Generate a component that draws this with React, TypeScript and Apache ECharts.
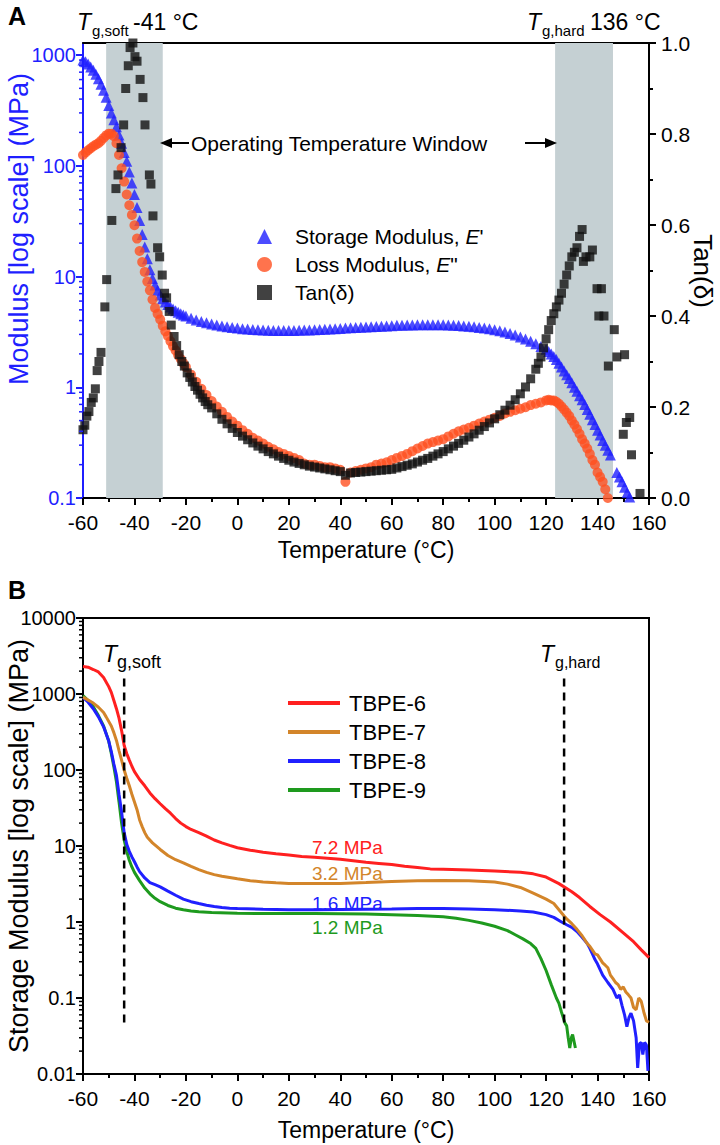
import React, { useEffect, useRef } from 'react';
import * as echarts from 'echarts';

const FONT = '"Liberation Sans", Arial, sans-serif';

// ---------- Panel A data ----------
const storageModulus: [number, number][] = [
  [-60, 900], [-59, 870], [-58, 830], [-57, 780], [-56, 730], [-55, 670], [-54, 610], [-53, 545], [-52, 480], [-51, 415],
  [-50, 350], [-49, 300], [-48, 260], [-47, 225], [-46, 190], [-45, 160], [-44, 132], [-43, 110], [-42, 88], [-41, 70],
  [-40, 55], [-39, 42], [-38, 32], [-37, 24], [-36, 18.5], [-35, 14.5], [-34, 11.5], [-33, 9.6], [-32, 8.4], [-31, 7.5],
  [-30, 6.8], [-29, 6.3], [-28, 5.9], [-27, 5.6], [-26, 5.3], [-25, 5.1], [-24, 4.9], [-23, 4.75], [-22, 4.6], [-21, 4.5],
  [-20, 4.4], [-18, 4.2], [-16, 4.05], [-14, 3.92], [-12, 3.82], [-10, 3.73], [-8, 3.65], [-6, 3.58], [-4, 3.52], [-2, 3.47],
  [0, 3.42], [2, 3.38], [4, 3.35], [6, 3.32], [8, 3.3], [10, 3.28], [12, 3.27], [14, 3.26], [16, 3.25], [18, 3.25],
  [20, 3.25], [22, 3.26], [24, 3.27], [26, 3.28], [28, 3.29], [30, 3.3], [32, 3.32], [34, 3.34], [36, 3.36], [38, 3.38],
  [40, 3.4], [42, 3.42], [44, 3.44], [46, 3.46], [48, 3.48], [50, 3.5], [52, 3.52], [54, 3.54], [56, 3.56], [58, 3.58],
  [60, 3.6], [62, 3.62], [64, 3.63], [66, 3.64], [68, 3.65], [70, 3.66], [72, 3.67], [74, 3.67], [76, 3.67], [78, 3.67],
  [80, 3.66], [82, 3.65], [84, 3.63], [86, 3.61], [88, 3.58], [90, 3.55], [92, 3.51], [94, 3.47], [96, 3.42], [98, 3.37],
  [100, 3.3], [102, 3.23], [104, 3.15], [106, 3.06], [108, 2.96], [110, 2.85], [112, 2.73], [114, 2.6], [116, 2.47], [118, 2.33],
  [120, 2.2], [121, 2.1], [122, 2.0], [123, 1.9], [124, 1.78], [125, 1.65], [126, 1.52], [127, 1.4], [128, 1.3], [129, 1.2],
  [130, 1.1], [131, 1.0], [132, 0.92], [133, 0.84], [134, 0.77], [135, 0.7], [136, 0.63], [137, 0.57], [138, 0.51], [139, 0.46],
  [140, 0.41], [141, 0.37], [142, 0.33], [143, 0.3], [144, 0.27], [145, 0.245],
  [147.5, 0.17], [148.5, 0.155], [149.5, 0.14], [150.5, 0.125], [151.5, 0.112], [152.5, 0.102],
];

const lossModulus: [number, number][] = [
  [-60, 125], [-59, 132], [-58, 138], [-57, 144], [-56, 150], [-55, 155], [-54, 160], [-53, 168], [-52, 178], [-51, 188],
  [-50, 195], [-49, 195], [-48, 185], [-47, 160], [-46, 125], [-45, 95], [-44, 72], [-43, 55], [-42, 44], [-41, 36],
  [-40, 29], [-39, 22], [-38, 17], [-37, 13.5], [-36, 11], [-35, 9], [-34, 7.5], [-33, 6.2], [-32, 5.2], [-31, 4.6],
  [-30, 4.1], [-29, 3.6], [-28, 3.2], [-27, 2.9], [-26, 2.6], [-25, 2.35], [-24, 2.15], [-23, 1.95], [-22, 1.8], [-21, 1.65],
  [-20, 1.52], [-18, 1.3], [-16, 1.12], [-14, 0.97], [-12, 0.85], [-10, 0.75], [-8, 0.67], [-6, 0.6], [-4, 0.54], [-2, 0.49],
  [0, 0.45], [2, 0.41], [4, 0.38], [6, 0.35], [8, 0.33], [10, 0.31], [12, 0.29], [14, 0.275], [16, 0.26], [18, 0.25],
  [20, 0.24], [22, 0.23], [24, 0.22], [26, 0.205], [28, 0.2], [30, 0.2], [32, 0.195], [34, 0.19], [36, 0.19], [38, 0.185],
  [40, 0.18], [42, 0.14], [44, 0.17], [46, 0.175], [48, 0.18], [50, 0.185], [52, 0.19], [54, 0.2], [56, 0.205], [58, 0.21],
  [60, 0.22], [62, 0.23], [64, 0.24], [66, 0.25], [68, 0.265], [70, 0.28], [72, 0.295], [74, 0.31], [76, 0.32], [78, 0.33],
  [80, 0.34], [82, 0.36], [84, 0.38], [86, 0.4], [88, 0.415], [90, 0.43], [92, 0.45], [94, 0.47], [96, 0.49], [98, 0.51],
  [100, 0.53], [102, 0.55], [104, 0.58], [106, 0.6], [108, 0.62], [110, 0.64], [112, 0.66], [114, 0.69], [116, 0.71], [118, 0.73],
  [120, 0.76], [121, 0.77], [122, 0.76], [123, 0.76], [124, 0.74], [125, 0.71], [126, 0.67], [127, 0.63], [128, 0.59], [129, 0.55],
  [130, 0.5], [131, 0.46], [132, 0.42], [133, 0.38], [134, 0.34], [135, 0.31], [136, 0.28], [137, 0.25], [138, 0.22], [139, 0.2],
  [140, 0.17], [141, 0.155], [142, 0.14], [143, 0.12], [144, 0.1],
];

const tanDelta: [number, number][] = [
  [-60, 0.15], [-59.3, 0.16], [-58.5, 0.18], [-57.7, 0.19], [-56.8, 0.21], [-56, 0.22], [-55.2, 0.24], [-54.5, 0.28], [-53.8, 0.3], [-53, 0.32],
  [-51.5, 0.42], [-50.8, 0.48], [-48.8, 0.61], [-47.2, 0.68], [-46.4, 0.71], [-45.2, 0.77], [-44.2, 0.82], [-43.4, 0.9], [-42.4, 0.95], [-41.7, 0.99],
  [-40.6, 1.0], [-39.8, 0.97], [-39, 0.96], [-37.8, 0.92], [-36.7, 0.88], [-35.9, 0.82], [-34.2, 0.71], [-33.6, 0.69], [-32.8, 0.62], [-31, 0.55],
  [-30.2, 0.53], [-29.2, 0.49], [-28.3, 0.45], [-27.5, 0.44], [-26.5, 0.41], [-25.7, 0.38], [-24.6, 0.355], [-23.6, 0.335], [-22.6, 0.315], [-21.6, 0.3],
  [-20.6, 0.29], [-19.5, 0.275], [-18.5, 0.265], [-17.5, 0.255], [-16.5, 0.245], [-15.5, 0.237], [-14.5, 0.228], [-13.5, 0.22], [-12.5, 0.212], [-11.5, 0.205],
  [-10, 0.198], [-8, 0.185], [-6, 0.173], [-4, 0.163], [-2, 0.153], [0, 0.144], [2, 0.136], [4, 0.128], [6, 0.121], [8, 0.114],
  [10, 0.108], [12, 0.102], [14, 0.097], [16, 0.092], [18, 0.087], [20, 0.083], [22, 0.079], [24, 0.076], [26, 0.073], [28, 0.07],
  [30, 0.068], [32, 0.066], [34, 0.064], [36, 0.062], [38, 0.06], [40, 0.058], [42, 0.05], [44, 0.055], [46, 0.056], [48, 0.057],
  [50, 0.058], [52, 0.059], [54, 0.06], [56, 0.061], [58, 0.062], [60, 0.063], [62, 0.066], [64, 0.069], [66, 0.072], [68, 0.075],
  [70, 0.079], [72, 0.083], [74, 0.087], [76, 0.092], [78, 0.097], [80, 0.102], [82, 0.108], [84, 0.114], [86, 0.12], [88, 0.127],
  [90, 0.134], [92, 0.141], [94, 0.149], [96, 0.157], [98, 0.165], [100, 0.174], [102, 0.183], [104, 0.193], [106, 0.204], [108, 0.216],
  [110, 0.229], [112, 0.244], [114, 0.262], [116, 0.283], [117, 0.296], [118, 0.31], [119, 0.33], [120, 0.35], [121, 0.37], [122, 0.39],
  [123, 0.405], [124, 0.42], [125, 0.435], [126, 0.45], [127, 0.47], [128, 0.49], [129, 0.51], [130, 0.53], [131, 0.54], [132, 0.55],
  [133, 0.575], [134, 0.59], [134.5, 0.52], [135.5, 0.53], [137, 0.53], [138, 0.545], [139.8, 0.46], [141.5, 0.46], [140.5, 0.4], [142.5, 0.4],
  [146.5, 0.37], [144.2, 0.29], [147.5, 0.31], [150.5, 0.315], [150, 0.14], [151.2, 0.166], [152.5, 0.177], [153.2, 0.095], [156.5, 0.01],
];

const windowBands: [number, number][] = [[-51, -29], [123.5, 146]];

// ---------- Panel B data ----------
const tbpe6: [number, number][] = [
  [-60, 2300], [-58, 2250], [-56, 2100], [-54, 1950], [-52, 1650], [-50, 1250], [-49, 1050], [-48, 820], [-47, 640], [-46, 480],
  [-45, 330], [-44, 210], [-43, 165], [-42, 135], [-41, 112], [-40, 95], [-38, 75], [-36, 62], [-34, 50], [-32, 42],
  [-30, 36], [-28, 31], [-26, 27], [-24, 23], [-22, 20], [-20, 18], [-18, 16.5], [-15, 15], [-12, 13.5], [-9, 12],
  [-6, 11], [-3, 10.2], [0, 9.5], [5, 8.8], [10, 8.3], [15, 7.9], [20, 7.6], [25, 7.3], [30, 7.1], [35, 6.9],
  [40, 6.7], [45, 6.4], [50, 6.1], [55, 5.9], [60, 5.7], [65, 5.4], [70, 5.2], [75, 5.0], [80, 4.95], [90, 4.85],
  [100, 4.7], [110, 4.5], [115, 4.3], [120, 3.9], [125, 3.2], [130, 2.5], [133, 2.1], [137, 1.6], [141, 1.25], [145, 1.0],
  [150, 0.72], [154, 0.55], [157, 0.43], [160, 0.34],
];

const tbpe7: [number, number][] = [
  [-60, 910], [-58, 830], [-56, 760], [-54, 670], [-52, 570], [-51, 500], [-49, 380], [-48, 310], [-47, 245], [-46, 180],
  [-45, 135], [-44, 100], [-43, 78], [-42, 62], [-41, 48], [-40, 38], [-39, 30], [-38, 22], [-37, 18], [-36, 15],
  [-35, 13], [-33, 11], [-30, 9], [-27, 7.5], [-24, 6.6], [-21, 6.0], [-18, 5.4], [-15, 4.9], [-12, 4.5], [-9, 4.2],
  [-6, 4.0], [-3, 3.85], [0, 3.7], [5, 3.5], [10, 3.35], [15, 3.28], [20, 3.22], [25, 3.2], [30, 3.2], [40, 3.22],
  [50, 3.3], [60, 3.4], [70, 3.5], [80, 3.52], [90, 3.5], [100, 3.35], [105, 3.15], [110, 2.85], [115, 2.4], [120, 2.0],
  [123, 1.75], [125, 1.45], [127, 1.2], [128, 1.1], [130, 0.95], [132, 0.8], [134, 0.66], [136, 0.52], [137, 0.48], [139, 0.38],
  [140, 0.37], [142, 0.29], [143, 0.27], [144, 0.25], [145, 0.2], [146, 0.18], [147, 0.16], [148, 0.15], [149, 0.13], [150, 0.14],
  [151, 0.12], [152, 0.11], [153, 0.1], [154, 0.075], [155, 0.07], [156, 0.1], [157, 0.09], [158, 0.065], [159, 0.05], [160, 0.048],
];

const tbpe8: [number, number][] = [
  [-60, 900], [-58, 780], [-56, 640], [-54, 500], [-52, 370], [-50, 240], [-49, 175], [-48, 120], [-47, 85], [-46, 48],
  [-45, 28], [-44, 15], [-43, 10.5], [-42, 8.5], [-41, 7.2], [-40, 6.2], [-39, 5.3], [-38, 4.6], [-36, 3.8], [-34, 3.3],
  [-32, 3.1], [-30, 2.9], [-27, 2.55], [-24, 2.25], [-21, 2.0], [-18, 1.85], [-15, 1.75], [-12, 1.66], [-9, 1.6], [-6, 1.55],
  [-3, 1.52], [0, 1.5], [10, 1.47], [20, 1.45], [30, 1.45], [40, 1.46], [50, 1.47], [60, 1.48], [70, 1.5], [80, 1.5],
  [90, 1.48], [100, 1.45], [110, 1.4], [115, 1.35], [120, 1.25], [123, 1.15], [126, 1.0], [128, 0.92], [130, 0.85], [132, 0.75],
  [134, 0.63], [136, 0.52], [137, 0.45], [138, 0.38], [139, 0.32], [140, 0.28], [142, 0.2], [144, 0.16], [146, 0.13], [147.5, 0.1],
  [148.5, 0.11], [149.5, 0.08], [150.5, 0.06], [151.4, 0.042], [152.2, 0.055], [153, 0.063], [154, 0.05], [155, 0.03], [155.6, 0.012], [156.3, 0.025],
  [157, 0.026], [157.6, 0.018], [158.3, 0.026], [159, 0.024], [159.6, 0.011],
];

const tbpe9: [number, number][] = [
  [-60, 950], [-58, 820], [-56, 680], [-54, 520], [-52, 380], [-50, 240], [-49, 165], [-48, 110], [-47, 70], [-46, 38],
  [-45, 20], [-44, 12], [-43, 8.5], [-42, 6.5], [-41, 5.3], [-40, 4.5], [-38, 3.5], [-36, 2.8], [-34, 2.35], [-32, 2.05],
  [-30, 1.85], [-27, 1.65], [-24, 1.52], [-21, 1.45], [-18, 1.4], [-15, 1.36], [-10, 1.33], [0, 1.3], [10, 1.29], [20, 1.29],
  [30, 1.29], [40, 1.28], [50, 1.27], [60, 1.25], [70, 1.22], [80, 1.17], [85, 1.12], [90, 1.05], [95, 0.97], [100, 0.88],
  [105, 0.77], [108, 0.68], [111, 0.6], [114, 0.52], [116, 0.45], [118, 0.33], [120, 0.23], [122, 0.15], [124, 0.1], [125, 0.085],
  [126, 0.065], [126.6, 0.056], [127.3, 0.047], [128, 0.043], [128.6, 0.03], [129.2, 0.022], [129.8, 0.03], [130.3, 0.033], [131.4, 0.022],
];

// transition temperatures in B: [T, top value, bottom value]
const tgLinesB: [number, number, number][] = [[-44, 1600, 0.042], [127, 1600, 0.042]];

const xTicks = { min: -60, max: 160, interval: 20 };
const minorMantissas = [2, 3, 4, 5, 6, 7, 8, 9];
const decadesA = [0.1, 1, 10, 100];
const decadesB = [0.01, 0.1, 1, 10, 100, 1000];

const BLUE_A = '#1f1fff';
const ORANGE_A = '#ff5020';
const SHADE = '#c5d0d3';
const C6 = '#ff2020';
const C7 = '#d3852a';
const C8 = '#2020ff';
const C9 = '#1e9a1e';

const logLabel = (v: number) => {
  const r = Math.round(Math.log10(v));
  return r >= 0 ? String(Math.pow(10, r)) : Math.pow(10, r).toFixed(-r);
};

const minorTickSeries = (xi: number, yi: number, decades: number[], color: string) => ({
  type: 'custom',
  xAxisIndex: xi,
  yAxisIndex: yi,
  silent: true,
  clip: false,
  z: 6,
  data: decades.flatMap((d) => minorMantissas.map((m) => [-60, +(d * m).toPrecision(3)])),
  renderItem: (_p: any, api: any) => {
    const p = api.coord([api.value(0), api.value(1)]);
    return { type: 'line', shape: { x1: p[0] - 4, y1: p[1], x2: p[0], y2: p[1] }, style: { stroke: color, lineWidth: 1.5 } };
  },
});

const baseX = (gridIndex: number) => ({
  type: 'value',
  gridIndex,
  ...xTicks,
  axisLine: { onZero: false, lineStyle: { color: '#000', width: 2 } },
  axisTick: { length: 7, lineStyle: { width: 2, color: '#000' } },
  minorTick: { show: true, splitNumber: 2, length: 4, lineStyle: { width: 2, color: '#000' } },
  splitLine: { show: false },
  axisLabel: { fontSize: 21, color: '#000', margin: 14, fontFamily: FONT },
  name: 'Temperature (°C)',
  nameLocation: 'middle',
  nameTextStyle: { fontSize: 23, color: '#000', fontFamily: FONT },
});

const txt = (x: number, y: number, text: string, size: number, color = '#000', style = 'normal', weight = 'normal') => ({
  type: 'text',
  x,
  y,
  z: 100,
  silent: true,
  style: { text, fill: color, fontSize: size, fontFamily: FONT, fontStyle: style, fontWeight: weight, verticalAlign: 'middle' },
});

const vtxt = (x: number, y: number, text: string, size: number, color: string, rotation: number) => ({
  type: 'text',
  x,
  y,
  rotation,
  z: 100,
  silent: true,
  style: { text, fill: color, fontSize: size, fontFamily: FONT, align: 'center', verticalAlign: 'middle' },
});

const gridBase = { left: 83, width: 566, outerBoundsMode: 'none', containLabel: false };

const option: any = {
  animation: false,
  textStyle: { fontFamily: FONT },
  grid: [
    { ...gridBase, top: 55, height: 443 },
    { ...gridBase, top: 43, height: 455 },
    { ...gridBase, top: 618, height: 456, show: true, borderColor: '#000', borderWidth: 2 },
  ],
  xAxis: [
    { ...baseX(0), nameGap: 40 },
    {
      type: 'value', gridIndex: 1, position: 'top', ...xTicks,
      axisLine: { onZero: false, lineStyle: { color: '#000', width: 2 } },
      axisTick: { show: false }, axisLabel: { show: false }, splitLine: { show: false },
    },
    { ...baseX(2), nameGap: 44 },
  ],
  yAxis: [
    {
      type: 'log', gridIndex: 0, logBase: 10, min: 0.1, max: 1000, position: 'left',
      axisLine: { onZero: false, lineStyle: { color: BLUE_A, width: 2 } },
      axisTick: { length: 7, lineStyle: { width: 2, color: BLUE_A } },
      splitLine: { show: false },
      axisLabel: { fontSize: 20, color: BLUE_A, margin: 7, fontFamily: FONT, formatter: logLabel },
    },
    {
      type: 'value', gridIndex: 1, min: 0, max: 1, interval: 0.2, position: 'right',
      axisLine: { onZero: false, lineStyle: { color: '#000', width: 2 } },
      axisTick: { length: 7, lineStyle: { width: 2, color: '#000' } },
      minorTick: { show: true, splitNumber: 2, length: 4, lineStyle: { width: 2, color: '#000' } },
      splitLine: { show: false },
      axisLabel: { fontSize: 21, color: '#000', margin: 12, fontFamily: FONT, formatter: (v: number) => v.toFixed(1) },
    },
    {
      type: 'value', gridIndex: 1, min: 0, max: 1, position: 'left',
      axisLine: { onZero: false, lineStyle: { color: BLUE_A, width: 2 } },
      axisTick: { show: false }, axisLabel: { show: false }, splitLine: { show: false },
    },
    {
      type: 'log', gridIndex: 2, logBase: 10, min: 0.01, max: 10000, position: 'left',
      axisLine: { onZero: false, lineStyle: { color: '#000', width: 2 } },
      axisTick: { length: 7, lineStyle: { width: 2, color: '#000' } },
      splitLine: { show: false },
      axisLabel: { fontSize: 20, color: '#000', margin: 7, fontFamily: FONT, formatter: logLabel },
    },
  ],
  legend: [
    {
      orient: 'vertical', left: 252, top: 221, itemWidth: 15, itemHeight: 15, itemGap: 7, selectedMode: false,
      data: ['Storage Modulus', 'Loss Modulus', 'Tan(δ)'],
      formatter: (n: string) => (n === 'Storage Modulus' ? "Storage Modulus, {i|E}'" : n === 'Loss Modulus' ? 'Loss Modulus, {i|E}"' : n),
      textStyle: {
        fontSize: 21, color: '#000', fontFamily: FONT, padding: [0, 0, 0, 18],
        rich: { i: { fontStyle: 'italic', fontSize: 21, fontFamily: FONT, color: '#000' } },
      },
    },
    {
      orient: 'vertical', left: 283, top: 687, itemWidth: 52, itemHeight: 4, itemGap: 7, icon: 'rect', selectedMode: false,
      data: ['TBPE-6', 'TBPE-7', 'TBPE-8', 'TBPE-9'],
      textStyle: { fontSize: 22, color: '#000', fontFamily: FONT, padding: [0, 0, 0, 4] },
    },
  ],
  series: [
    {
      type: 'custom', name: 'window', xAxisIndex: 1, yAxisIndex: 1, silent: true, z: 1,
      data: windowBands,
      renderItem: (params: any, api: any) => {
        const cs = params.coordSys;
        const x1 = api.coord([api.value(0), 0.5])[0];
        const x2 = api.coord([api.value(1), 0.5])[0];
        return { type: 'rect', shape: { x: x1, y: cs.y, width: x2 - x1, height: cs.height }, style: { fill: SHADE } };
      },
    },
    {
      type: 'scatter', name: 'Storage Modulus', xAxisIndex: 0, yAxisIndex: 0, z: 3, silent: true,
      symbol: 'triangle', symbolSize: 11, itemStyle: { color: BLUE_A }, data: storageModulus,
    },
    {
      type: 'scatter', name: 'Loss Modulus', xAxisIndex: 0, yAxisIndex: 0, z: 4, silent: true,
      symbol: 'circle', symbolSize: 10, itemStyle: { color: ORANGE_A }, data: lossModulus,
    },
    {
      type: 'scatter', name: 'Tan(δ)', xAxisIndex: 1, yAxisIndex: 1, z: 5, silent: true,
      symbol: 'rect', symbolSize: 9, itemStyle: { color: '#111' }, data: tanDelta,
    },
    minorTickSeries(0, 0, decadesA, BLUE_A),
    ...[
      ['TBPE-6', tbpe6, C6],
      ['TBPE-7', tbpe7, C7],
      ['TBPE-8', tbpe8, C8],
      ['TBPE-9', tbpe9, C9],
    ].map(([name, data, color]: any, i) => ({
      type: 'line', name, xAxisIndex: 2, yAxisIndex: 3, data, showSymbol: false, symbol: 'none', silent: true,
      z: 6 - i, lineStyle: { color, width: 3 }, itemStyle: { color },
    })),
    {
      type: 'custom', name: 'tg', xAxisIndex: 2, yAxisIndex: 3, silent: true, z: 7,
      data: tgLinesB,
      encode: { x: 0, y: [1, 2] },
      renderItem: (_p: any, api: any) => {
        const a = api.coord([api.value(0), api.value(1)]);
        const b = api.coord([api.value(0), api.value(2)]);
        return { type: 'line', shape: { x1: a[0], y1: a[1], x2: b[0], y2: b[1] }, style: { stroke: '#000', lineWidth: 2.5, lineDash: [8, 6] } };
      },
    },
    minorTickSeries(2, 3, decadesB, '#000'),
  ],
  graphic: [
    txt(8, 16, 'A', 25, '#000', 'normal', 'bold'),
    txt(8, 590, 'B', 25, '#000', 'normal', 'bold'),
    // rotated axis titles
    vtxt(19, 229, 'Modulus [log scale] (MPa)', 27, BLUE_A, Math.PI / 2),
    vtxt(703, 271, 'Tan(δ)', 26, '#000', -Math.PI / 2),
    vtxt(19, 846, 'Storage Modulus [log scale] (MPa)', 27, '#000', Math.PI / 2),
    // Panel A titles
    txt(77, 22, 'T', 23, '#000', 'italic'),
    txt(92, 30, 'g,soft', 15),
    txt(133, 22, '-41 °C', 23),
    txt(527, 22, 'T', 23, '#000', 'italic'),
    txt(542, 30, 'g,hard', 15),
    txt(590, 22, '136 °C', 23),
    txt(191, 143, 'Operating Temperature Window', 21),
    { type: 'line', z: 100, silent: true, shape: { x1: 168, y1: 143, x2: 189, y2: 143 }, style: { stroke: '#000', lineWidth: 2 } },
    { type: 'polygon', z: 100, silent: true, shape: { points: [[160, 143], [172, 138], [172, 148]] }, style: { fill: '#000' } },
    { type: 'line', z: 100, silent: true, shape: { x1: 525, y1: 143, x2: 549, y2: 143 }, style: { stroke: '#000', lineWidth: 2 } },
    { type: 'polygon', z: 100, silent: true, shape: { points: [[557, 143], [545, 138], [545, 148]] }, style: { fill: '#000' } },
    // Panel B labels
    txt(103, 654, 'T', 23, '#000', 'italic'),
    txt(117, 662, 'g,soft', 18),
    txt(540, 654, 'T', 23, '#000', 'italic'),
    txt(555, 662, 'g,hard', 16),
    txt(312, 847, '7.2 MPa', 19, C6),
    txt(312, 873, '3.2 MPa', 19, C7),
    txt(312, 903, '1.6 MPa', 19, C8),
    txt(312, 927, '1.2 MPa', 19, C9),
  ],
};

export default function App() {
  const ref = useRef<HTMLDivElement>(null);
  useEffect(() => {
    document.body.style.margin = '0';
    const chart = echarts.init(ref.current!, null, { renderer: 'svg' });
    chart.setOption(option);
    return () => chart.dispose();
  }, []);
  return <div ref={ref} style={{ position: 'absolute', left: 0, top: 0, width: 720, height: 1145 }} />;
}
